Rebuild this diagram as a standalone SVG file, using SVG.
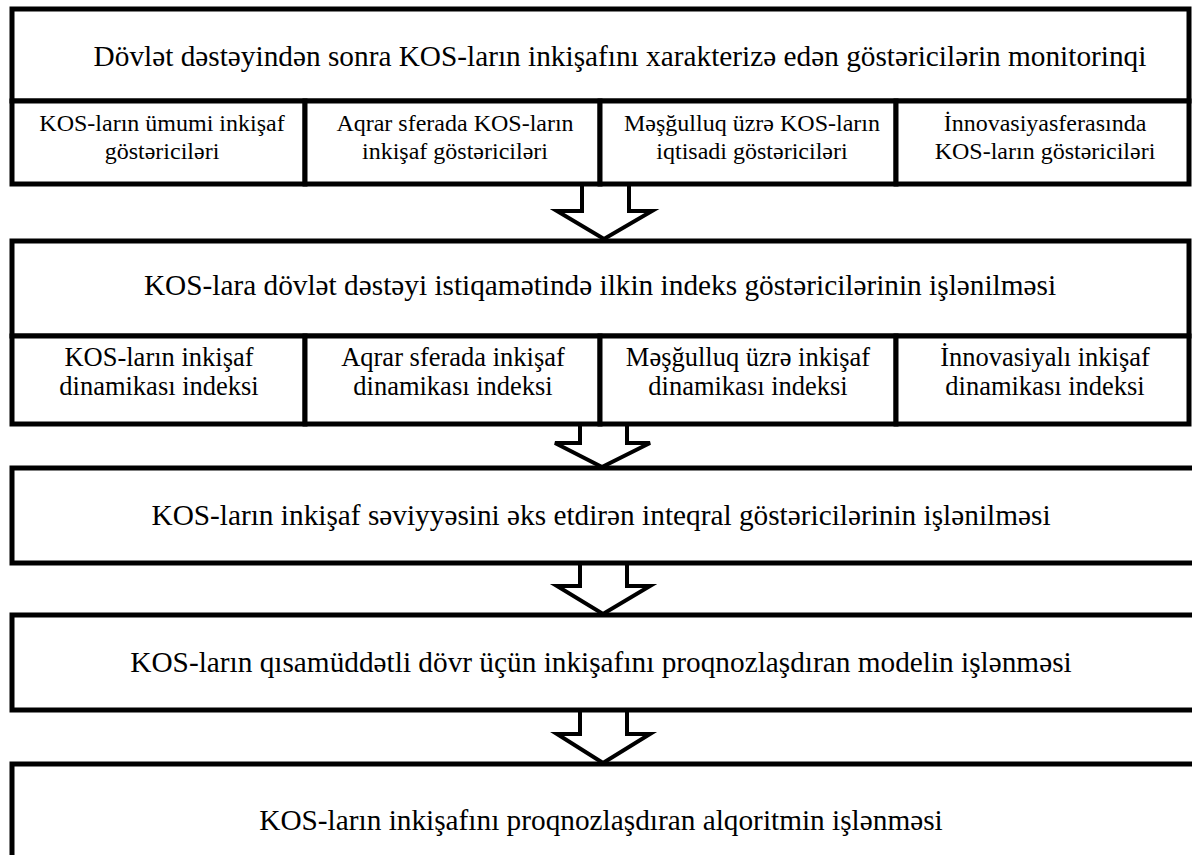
<svg xmlns="http://www.w3.org/2000/svg" width="1192" height="855" viewBox="0 0 1192 855" font-family="'Liberation Serif', 'Times New Roman', serif">
<style>
.bx{fill:#fff;stroke:#000;stroke-width:5}
.ar{fill:#fff;stroke:#000;stroke-width:4;stroke-linejoin:miter}
.t{font-family:'Liberation Serif','Times New Roman',serif;font-size:24px;fill:#000;text-anchor:middle}
.h{font-size:29.3px}
.s{font-size:26.5px}
</style>
<rect width="1192" height="855" fill="#fff"/>
<g id="connectors">
<polygon class="ar" points="582,184 582,211 557,211 604,239 652,211 629,211 629,184"/>
<polygon class="ar" points="580,424 580,443 555,443 602,467 650,443 627,443 627,424"/>
<polygon class="ar" points="580,563 580,586 557,586 603,614 650,586 627,586 627,563"/>
<polygon class="ar" points="580,710 580,734 557,734 603,763 650,734 627,734 627,710"/>
</g>
<g id="node-monitoring">
<rect class="bx" x="12" y="9" width="1177" height="92"/>
<text class="t h" x="620" y="66">Dövlət dəstəyindən sonra KOS-ların inkişafını xarakterizə edən göstəricilərin monitorinqi</text>
</g>
<g id="node-m1">
<rect class="bx" x="12" y="101" width="293" height="83"/>
<text class="t" x="162" y="131">KOS-ların ümumi inkişaf</text>
<text class="t" x="162" y="159">göstəriciləri</text>
</g>
<g id="node-m2">
<rect class="bx" x="305" y="101" width="295" height="83"/>
<text class="t" x="455" y="131">Aqrar sferada KOS-ların</text>
<text class="t" x="455" y="159">inkişaf göstəriciləri</text>
</g>
<g id="node-m3">
<rect class="bx" x="600" y="101" width="296" height="83"/>
<text class="t" x="752" y="131">Məşğulluq üzrə KOS-ların</text>
<text class="t" x="752" y="159">iqtisadi göstəriciləri</text>
</g>
<g id="node-m4">
<rect class="bx" x="896" y="101" width="293" height="83"/>
<text class="t" x="1045" y="131">İnnovasiyasferasında</text>
<text class="t" x="1045" y="159">KOS-ların göstəriciləri</text>
</g>
<g id="node-index">
<rect class="bx" x="12" y="241" width="1177" height="95"/>
<text class="t h" x="600" y="295">KOS-lara dövlət dəstəyi istiqamətində ilkin indeks göstəricilərinin işlənilməsi</text>
</g>
<g id="node-i1">
<rect class="bx" x="12" y="336" width="293" height="88"/>
<text class="t s" x="159" y="366">KOS-ların inkişaf</text>
<text class="t s" x="159" y="395">dinamikası indeksi</text>
</g>
<g id="node-i2">
<rect class="bx" x="305" y="336" width="295" height="88"/>
<text class="t s" x="453" y="366">Aqrar sferada inkişaf</text>
<text class="t s" x="453" y="395">dinamikası indeksi</text>
</g>
<g id="node-i3">
<rect class="bx" x="600" y="336" width="296" height="88"/>
<text class="t s" x="748" y="366">Məşğulluq üzrə inkişaf</text>
<text class="t s" x="748" y="395">dinamikası indeksi</text>
</g>
<g id="node-i4">
<rect class="bx" x="896" y="336" width="293" height="88"/>
<text class="t s" x="1045" y="366">İnnovasiyalı inkişaf</text>
<text class="t s" x="1045" y="395">dinamikası indeksi</text>
</g>
<g id="node-integral">
<rect class="bx" x="12" y="468" width="1183" height="95"/>
<text class="t h" x="601" y="525">KOS-ların inkişaf səviyyəsini əks etdirən inteqral göstəricilərinin işlənilməsi</text>
</g>
<g id="node-model">
<rect class="bx" x="12" y="615" width="1183" height="95"/>
<text class="t h" x="601" y="672">KOS-ların qısamüddətli dövr üçün inkişafını proqnozlaşdıran modelin işlənməsi</text>
</g>
<g id="node-algorithm">
<rect class="bx" x="12" y="764" width="1183" height="110"/>
<text class="t h" x="601" y="830">KOS-ların inkişafını proqnozlaşdıran alqoritmin işlənməsi</text>
</g>
</svg>
